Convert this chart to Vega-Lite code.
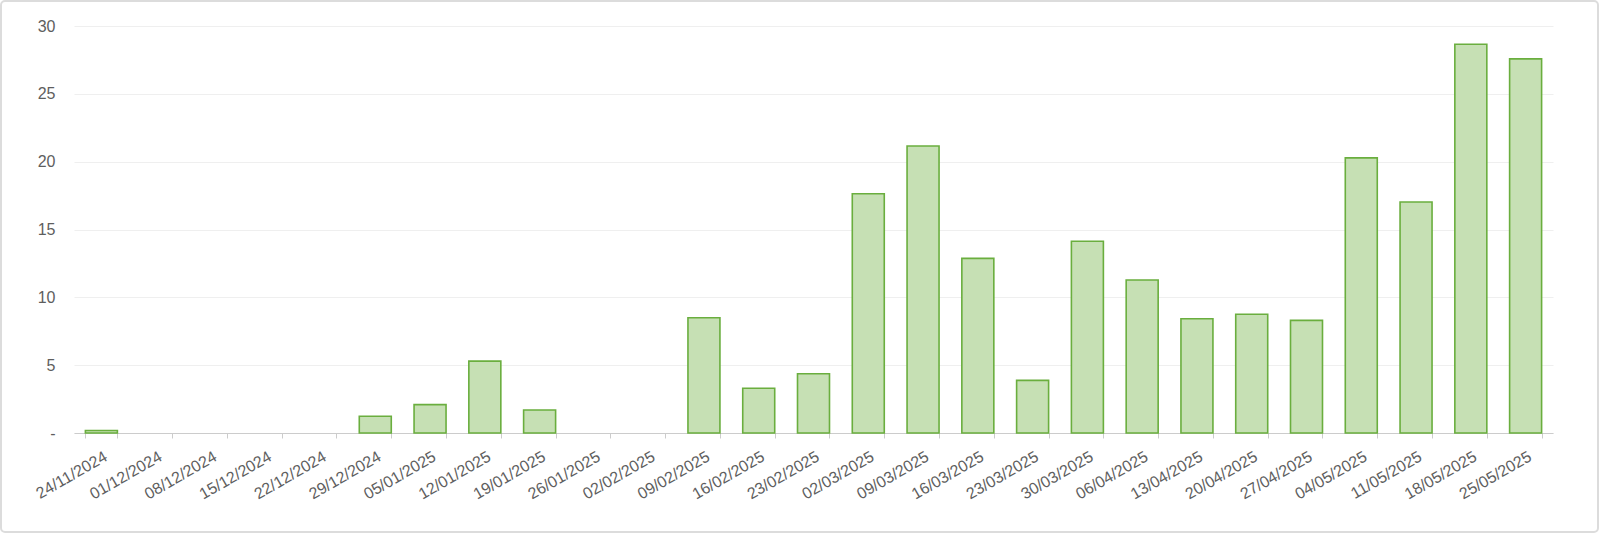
{
  "$schema": "https://vega.github.io/schema/vega-lite/v6.json",
  "width": 1597,
  "height": 531,
  "autosize": {"type": "none"},
  "padding": {"left": 1, "top": 1, "right": 2, "bottom": 2},
  "background": "white",
  "config": {
    "view": {"stroke": "#dcdcdc", "strokeWidth": 2, "cornerRadius": 4},
    "axis": {"labelFont": "Liberation Sans", "labelFontSize": 16, "labelColor": "#5e5e5e"}
  },
  "data": {
    "values": [
      {"week": "24/11/2024", "value": 0.18},
      {"week": "01/12/2024", "value": 0},
      {"week": "08/12/2024", "value": 0},
      {"week": "15/12/2024", "value": 0},
      {"week": "22/12/2024", "value": 0},
      {"week": "29/12/2024", "value": 1.23},
      {"week": "05/01/2025", "value": 2.09},
      {"week": "12/01/2025", "value": 5.3},
      {"week": "19/01/2025", "value": 1.7},
      {"week": "26/01/2025", "value": 0},
      {"week": "02/02/2025", "value": 0},
      {"week": "09/02/2025", "value": 8.5},
      {"week": "16/02/2025", "value": 3.3},
      {"week": "23/02/2025", "value": 4.37},
      {"week": "02/03/2025", "value": 17.64},
      {"week": "09/03/2025", "value": 21.15},
      {"week": "16/03/2025", "value": 12.87},
      {"week": "23/03/2025", "value": 3.88},
      {"week": "30/03/2025", "value": 14.13},
      {"week": "06/04/2025", "value": 11.28},
      {"week": "13/04/2025", "value": 8.42},
      {"week": "20/04/2025", "value": 8.75},
      {"week": "27/04/2025", "value": 8.3},
      {"week": "04/05/2025", "value": 20.28},
      {"week": "11/05/2025", "value": 17.03},
      {"week": "18/05/2025", "value": 28.65},
      {"week": "25/05/2025", "value": 27.58}
    ]
  },
  "mark": {"type": "bar", "fill": "#c6e0b4", "stroke": "#6aae3e", "strokeWidth": 1.6},
  "encoding": {
    "x": {
      "field": "week",
      "type": "nominal",
      "sort": null,
      "scale": {"range": [73, 1552], "paddingInner": 0.416, "paddingOuter": 0.208},
      "axis": {
        "title": null,
        "labelAngle": -30,
        "offset": -99,
        "tickBand": "extent",
        "domainColor": "#cccccc",
        "tickColor": "#cccccc",
        "tickSize": 5,
        "labelPadding": 10,
        "grid": false
      }
    },
    "y": {
      "field": "value",
      "type": "quantitative",
      "scale": {"domain": [0, 30], "range": [432, 25], "nice": false},
      "axis": {
        "title": null,
        "values": [0, 5, 10, 15, 20, 25, 30],
        "labelExpr": "datum.value === 0 ? '-' : datum.label",
        "domain": false,
        "ticks": false,
        "labelPadding": 19,
        "offset": -73,
        "gridColor": "#efefef"
      }
    },
    "strokeOpacity": {"condition": {"test": "datum.value <= 0", "value": 0}, "value": 1}
  }
}
